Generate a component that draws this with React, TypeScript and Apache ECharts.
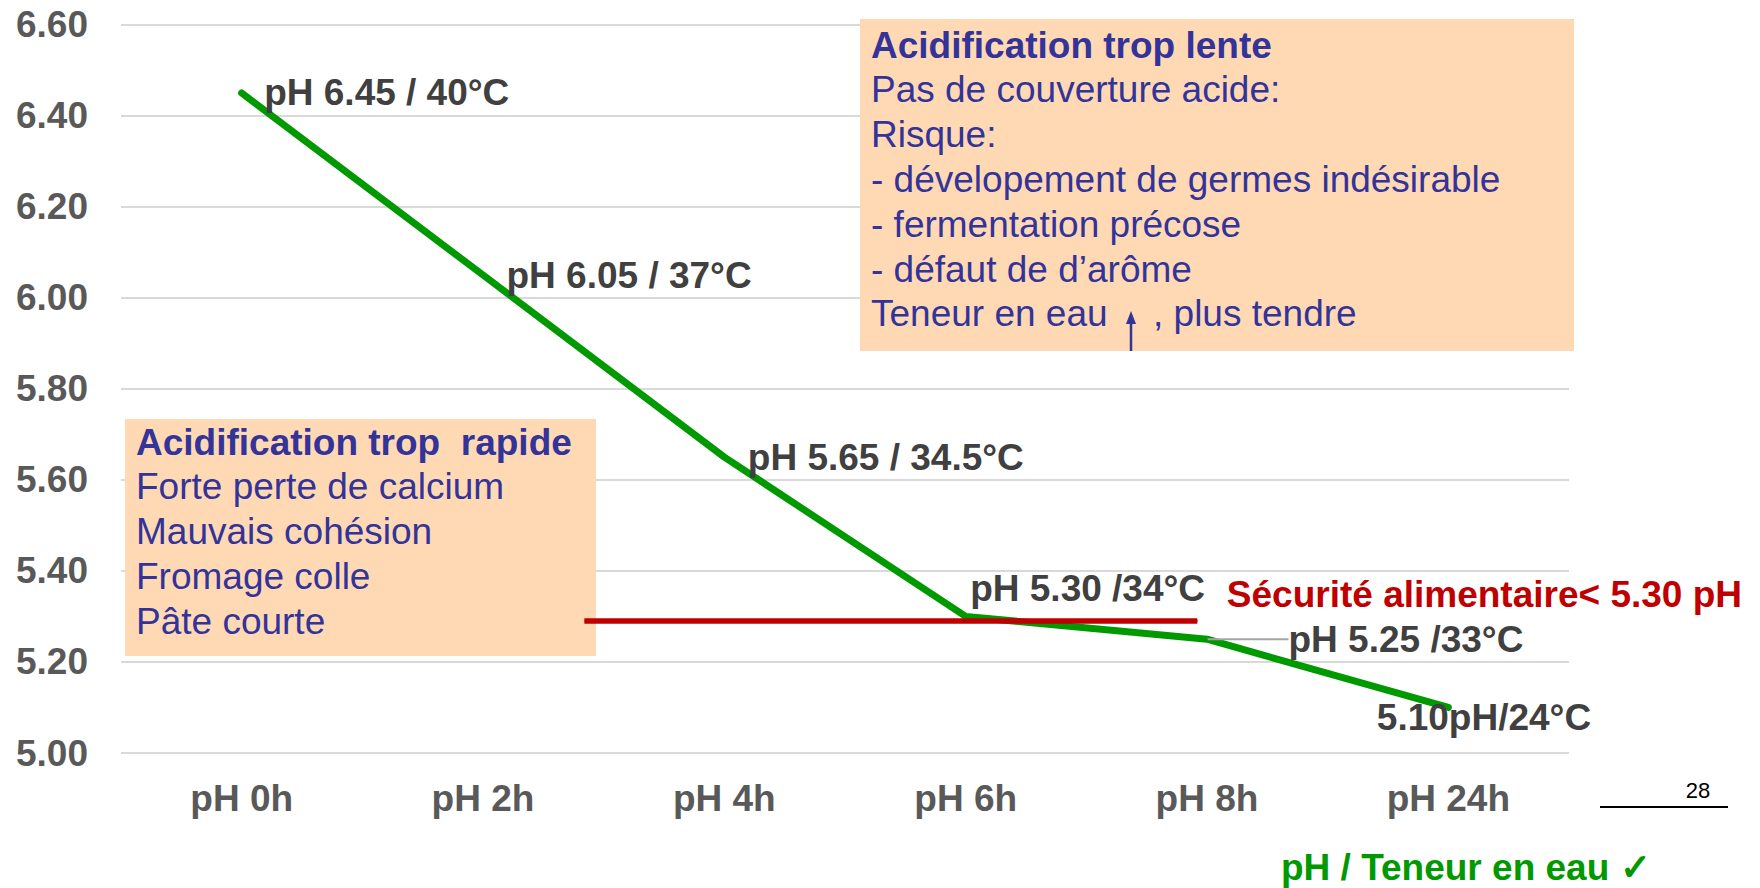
import React, { useEffect, useRef } from "react";
import * as echarts from "echarts";

// ---- data ----
const categories = ["pH 0h", "pH 2h", "pH 4h", "pH 6h", "pH 8h", "pH 24h"];
const phValues = [6.45, 6.05, 5.65, 5.3, 5.25, 5.1];
const pointLabels = [
  "pH 6.45 / 40°C",
  "pH 6.05 / 37°C",
  "pH 5.65 / 34.5°C",
  "pH 5.30 /34°C",
  "pH 5.25 /33°C",
  "5.10pH/24°C",
];
const yMin = 5.0;
const yMax = 6.6;
const yInterval = 0.2;
const safetyLimit = 5.29; // drawn threshold line (label says 5.30)
const safetySpan = [1.42, 3.96]; // category-index positions of the red line ends
const safetyText = "Sécurité alimentaire< 5.30 pH";
const slowTitle = "Acidification trop lente";
const slowLines = [
  "Pas de couverture acide:",
  "Risque:",
  "- dévelopement de germes indésirable",
  "- fermentation précose",
  "- défaut de d’arôme",
];
const slowLastLine = ["Teneur en eau", ", plus tendre"];
const fastTitle = "Acidification trop  rapide";
const fastLines = ["Forte perte de calcium", "Mauvais cohésion", "Fromage colle", "Pâte courte"];
const footerText = "pH / Teneur en eau ✓";
const pageNumber = "28";

const FONT = "'Liberation Sans', Arial, Helvetica, sans-serif";
const BLUE = "#333399";
const PEACH = "#FED9B4";
const GREEN = "#009900";
const RED = "#C00000";
const FS = 37;

export default function App() {
  const ref = useRef<HTMLDivElement>(null);
  useEffect(() => {
    if (!ref.current) return;
    const chart = echarts.init(ref.current, undefined, { renderer: "svg" });

    // per-point label shifts (style only), label sits right of the point
    const labelShift: number[][] = [
      [17, 0],
      [18, 0],
      [18, 0],
      [-1, -28],
      [76, 0],
      [-77, 10],
    ];

    const greenData = phValues.map((v, i) => {
      const item: any = { value: v, label: { formatter: pointLabels[i] } };
      if (i === 4) {
        item.labelLine = { show: true, lineStyle: { color: "#A6A6A6", width: 2 } };
      }
      return item;
    });

    const lineH = 44.8;
    const graphics: any[] = [];
    const txt = (x: number, y: number, text: string, bold = false) => ({
      type: "text",
      z: 5,
      x,
      y,
      style: {
        text,
        font: `${bold ? "bold " : ""}${FS}px ${FONT}`,
        fill: BLUE,
        textVerticalAlign: "middle",
      },
    });
    // right box
    graphics.push({
      type: "rect",
      z: 1,
      shape: { x: 860, y: 19, width: 714, height: 332 },
      style: { fill: PEACH },
    });
    const rx = 871;
    const ry0 = 45;
    graphics.push(txt(rx, ry0, slowTitle, true));
    slowLines.forEach((t, i) => graphics.push(txt(rx, ry0 + (i + 1) * lineH, t)));
    const lastY = ry0 + (slowLines.length + 1) * lineH;
    graphics.push(txt(rx, lastY, slowLastLine[0]));
    graphics.push(txt(1153, lastY, slowLastLine[1]));
    graphics.push({
      type: "line",
      z: 5,
      shape: { x1: 1131, y1: 351, x2: 1131, y2: 322 },
      style: { stroke: BLUE, lineWidth: 2.5 },
    });
    graphics.push({
      type: "polygon",
      z: 5,
      shape: { points: [[1131, 311], [1126, 324], [1136, 324]] },
      style: { fill: BLUE },
    });

    // left box
    graphics.push({
      type: "rect",
      z: 1,
      shape: { x: 125, y: 419, width: 471, height: 237 },
      style: { fill: PEACH },
    });
    const lx = 136;
    const ly0 = 442;
    graphics.push(txt(lx, ly0, fastTitle, true));
    fastLines.forEach((t, i) => graphics.push(txt(lx, ly0 + (i + 1) * lineH, t)));

    // page number
    graphics.push({
      type: "text",
      z: 5,
      x: 1698,
      y: 790,
      style: { text: pageNumber, font: `22px ${FONT}`, fill: "#000", textAlign: "center", textVerticalAlign: "middle" },
    });
    graphics.push({
      type: "line",
      z: 5,
      shape: { x1: 1600, y1: 807, x2: 1728, y2: 807 },
      style: { stroke: "#000", lineWidth: 2 },
    });
    // footer
    graphics.push({
      type: "text",
      z: 5,
      x: 1281,
      y: 867,
      style: { text: footerText, font: `bold ${FS}px ${FONT}`, fill: GREEN, textVerticalAlign: "middle" },
    });

    chart.setOption({
      animation: false,
      backgroundColor: "#fff",
      textStyle: { fontFamily: FONT },
      grid: { left: 121, right: 191, top: 24.7, bottom: 135, containLabel: false },
      xAxis: [
        {
          type: "category",
          data: categories,
          boundaryGap: true,
          axisLine: { show: false },
          axisTick: { show: false },
          axisLabel: { fontSize: FS, fontWeight: "bold", color: "#595959", margin: 27, fontFamily: FONT },
        },
        { type: "value", min: -0.5, max: 5.5, show: false },
      ],
      yAxis: {
        type: "value",
        min: yMin,
        max: yMax,
        interval: yInterval,
        axisLine: { show: false },
        axisTick: { show: false },
        axisLabel: {
          fontSize: FS,
          fontWeight: "bold",
          color: "#595959",
          margin: 33,
          fontFamily: FONT,
          formatter: (v: number) => v.toFixed(2),
        },
        splitLine: { lineStyle: { color: "#D9D9D9", width: 2 } },
      },
      series: [
        {
          type: "line",
          xAxisIndex: 0,
          data: greenData,
          symbol: "circle",
          symbolSize: 1,
          showSymbol: true,
          itemStyle: { color: GREEN },
          lineStyle: { color: GREEN, width: 7, cap: "round", join: "round" },
          label: {
            show: true,
            position: "right",
            distance: 5,
            fontSize: FS,
            fontWeight: "bold",
            color: "#404040",
            fontFamily: FONT,
          },
          labelLayout: (p: any) => {
            const s = labelShift[p.dataIndex] || [0, 0];
            return { dx: s[0], dy: s[1] };
          },
          z: 3,
        },
        {
          type: "line",
          xAxisIndex: 1,
          data: [
            [safetySpan[0], safetyLimit],
            {
              value: [safetySpan[1], safetyLimit],
              label: {
                show: true,
                formatter: safetyText,
                position: "right",
                distance: 29,
                offset: [0, -26],
                fontSize: FS,
                fontWeight: "bold",
                color: RED,
                fontFamily: FONT,
              },
            },
          ],
          symbol: "circle",
          symbolSize: 1,
          showSymbol: true,
          itemStyle: { color: RED },
          lineStyle: { color: RED, width: 5.5, cap: "butt" },
          z: 4,
        },
      ],
      graphic: { elements: graphics },
    });
    return () => chart.dispose();
  }, []);
  return (
    <div
      ref={ref}
      style={{ position: "absolute", left: 0, top: 0, width: 1760, height: 888 }}
    />
  );
}
